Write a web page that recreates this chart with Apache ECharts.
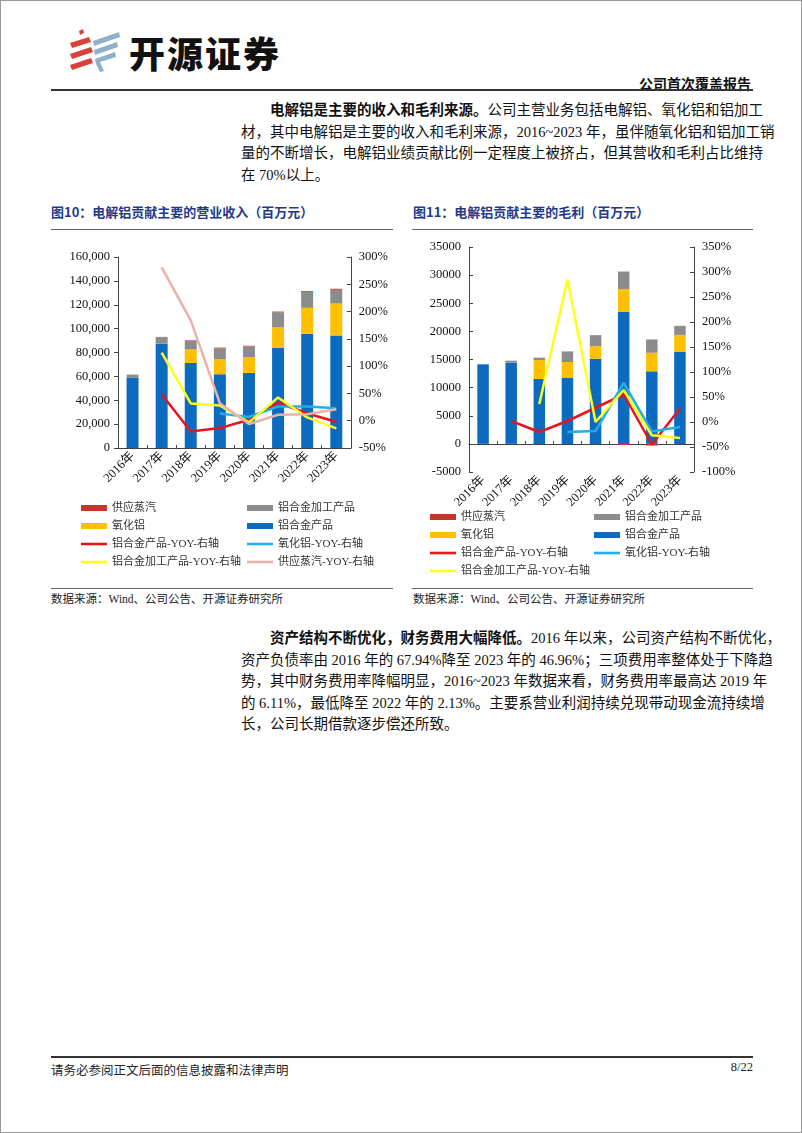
<!DOCTYPE html>
<html>
<head>
<meta charset="utf-8">
<script src="https://cdn.jsdelivr.net/npm/echarts@6/dist/echarts.min.js"></script>
<style>
  html, body { margin: 0; padding: 0; background: #fff; }
  #page { position: relative; width: 800px; height: 1131px; border: 1px solid #999; overflow: hidden;
    font-family: "Liberation Serif", "Noto Sans CJK SC", serif; color: #111; }
  .abs { position: absolute; }
  .brand { left: 128px; top: 28px; font-family: "Noto Sans CJK SC", sans-serif; font-weight: 900; font-size: 36px; letter-spacing: 2px; color: #111; line-height: 46px; }
  .rtype { right: 50px; top: 72px; font-family: "Noto Sans CJK SC", sans-serif; font-weight: bold; font-size: 14px; line-height: 20px; }
  .hline { left: 50px; width: 702px; height: 2px; background: #333; }
  .para { left: 240px; width: 512px; font-size: 14.5px; line-height: 21.5px; }
  .para div { text-align: justify; text-align-last: justify; white-space: nowrap; }
  .para div.last { text-align-last: left; }
  .para b { font-family: "Noto Sans CJK SC", sans-serif; font-weight: bold; }
  .ftitle { font-family: "Noto Sans CJK SC", sans-serif; font-weight: bold; font-size: 13px; color: #1f3a8a; line-height: 20px; }
  .rule { height: 1px; background: #666; }
  .src { font-size: 11.5px; line-height: 16px; color: #222; }
  .foot { font-size: 12.5px; color: #222; }
</style>
</head>
<body>
<div id="page">
  <svg class="abs" style="left:66px;top:28px" width="56" height="46" viewBox="0 0 56 46">
    <polygon points="12,2 16,0 17,4 13,6" fill="#d9413a"/>
    <polygon points="3,14 22,8 24,13 5,19" fill="#d9413a"/>
    <polygon points="3,25 24,18 26,23 5,30" fill="#d9413a"/>
    <polygon points="3,36 24,29 26,34 5,41" fill="#d9413a"/>
    <polygon points="26,12 52,3 53,8 27,17" fill="#8fb0c9"/>
    <polygon points="27,21 50,13 51,18 28,26" fill="#8fb0c9"/>
    <polygon points="28,30 48,23 49,28 33,33 37,42 33,43 29,35" fill="#8fb0c9"/>
  </svg>
  <div class="abs brand">开源证券</div>
  <div class="abs rtype">公司首次覆盖报告</div>
  <div class="abs hline" style="top:88px"></div>

  <div class="abs para" style="top:97px">
    <div style="padding-left:29px"><b>电解铝是主要的收入和毛利来源。</b>公司主营业务包括电解铝、氧化铝和铝加工</div>
    <div>材，其中电解铝是主要的收入和毛利来源，2016~2023 年，虽伴随氧化铝和铝加工销</div>
    <div>量的不断增长，电解铝业绩贡献比例一定程度上被挤占，但其营收和毛利占比维持</div>
    <div class="last">在 70%以上。</div>
  </div>

  <div class="abs ftitle" style="left:50px;top:201px">图10：电解铝贡献主要的营业收入（百万元）</div>
  <div class="abs ftitle" style="left:412px;top:201px">图11：电解铝贡献主要的毛利（百万元）</div>
  <div class="abs rule" style="left:50px;top:228px;width:342px"></div>
  <div class="abs rule" style="left:411px;top:228px;width:341px"></div>

  <div id="c1" class="abs" style="left:40px;top:240px;width:350px;height:345px"></div>
  <div id="c2" class="abs" style="left:400px;top:230px;width:360px;height:355px"></div>

  <div class="abs rule" style="left:50px;top:587px;width:342px"></div>
  <div class="abs rule" style="left:411px;top:587px;width:341px"></div>
  <div class="abs src" style="left:50px;top:590px">数据来源：Wind、公司公告、开源证券研究所</div>
  <div class="abs src" style="left:412px;top:590px">数据来源：Wind、公司公告、开源证券研究所</div>

  <div class="abs para" style="top:625px">
    <div style="padding-left:29px"><b>资产结构不断优化，财务费用大幅降低。</b>2016 年以来，公司资产结构不断优化，</div>
    <div>资产负债率由 2016 年的 67.94%降至 2023 年的 46.96%；三项费用率整体处于下降趋</div>
    <div>势，其中财务费用率降幅明显，2016~2023 年数据来看，财务费用率最高达 2019 年</div>
    <div>的 6.11%，最低降至 2022 年的 2.13%。主要系营业利润持续兑现带动现金流持续增</div>
    <div class="last">长，公司长期借款逐步偿还所致。</div>
  </div>

  <div class="abs hline" style="top:1055px"></div>
  <div class="abs foot" style="left:50px;top:1059px">请务必参阅正文后面的信息披露和法律声明</div>
  <div class="abs foot" style="right:48px;top:1059px">8/22</div>
</div>

<script>
// categories
const years = ['2016年', '2017年', '2018年', '2019年', '2020年', '2021年', '2022年', '2023年'];

// 图10 营业收入（百万元）
const revAlloy = [59000, 87400, 71200, 61800, 62900, 84000, 95700, 94300];
const revAlumina = [0, 0, 11400, 12500, 13300, 17000, 21700, 26700];
const revProcess = [2450, 5500, 7250, 9200, 8900, 12700, 13450, 11570];
const revSteam = [40, 150, 430, 570, 530, 590, 660, 800];
const revAlloyYoy = [null, 48.6, -19.6, -13.5, 1.7, 33.4, 13.3, -2];
const revAluminaYoy = [null, null, null, 13.3, 7, 26, 26, 23];
const revProcessYoy = [null, 124.7, 31.6, 28, -3, 42.5, 6, -14];
const revSteamYoy = [null, 281, 184, 32, -6, 11, 12, 21];

// 图11 毛利（百万元）
const gpAlloy = [14140, 14430, 11550, 11780, 15140, 23450, 12900, 16380];
const gpAlumina = [0, 0, 3350, 2770, 2240, 4060, 3300, 3000];
const gpProcess = [0, 360, 420, 1890, 1950, 3130, 2360, 1600];
const gpSteam = [0, 0, 0, 0, 0, -200, -300, 0];
const gpAlloyYoy = [null, 2, -20, 2, 28.5, 55, -45, 27];
const gpAluminaYoy = [null, null, null, -20, -18, 78, -19, -10];
const gpProcessYoy = [null, null, 36, 285, 0, 64, -26.5, -32];

const C = {
  alloy: '#0d6bbf', alumina: '#ffc000', process: '#8c8c8c', steam: '#c8352b',
  alloyYoy: '#e8141b', aluminaYoy: '#22aee8', processYoy: '#ffff1e', steamYoy: '#e8b2a8'
};
const FONT = '"Liberation Serif", "Noto Sans CJK SC", serif';
const LINE_ICON = 'path://M0,0H30V3H0Z';

function bar(name, data, color, w) {
  return { name: name, type: 'bar', stack: 'total', data: data, barWidth: w,
    itemStyle: { color: color }, color: color, yAxisIndex: 0, animation: false };
}
function line(name, data, color) {
  return { name: name, type: 'line', data: data, yAxisIndex: 1, symbol: 'none',
    color: color, lineStyle: { color: color, width: 2.5 }, animation: false };
}
function legend(left, top, items) {
  return {
    orient: 'vertical', left: left, top: top, itemWidth: 26, itemHeight: 6, itemGap: 6,
    symbolKeepAspect: true, selectedMode: false,
    textStyle: { fontSize: 11, fontFamily: FONT, color: '#333', lineHeight: 12 },
    data: items.map(function (it) { return { name: it[0], icon: it[1] ? LINE_ICON : 'rect' }; })
  };
}
function valueAxis(min, max, interval, fmt, pos, tickInside) {
  return {
    type: 'value', min: min, max: max, interval: interval, position: pos,
    splitLine: { show: false },
    axisLine: { show: true, lineStyle: { color: '#444', width: 1 } },
    axisTick: { show: true, inside: tickInside, length: 4, lineStyle: { color: '#444' } },
    axisLabel: { formatter: fmt, fontFamily: FONT, fontSize: 12.5, color: '#111', margin: 8 }
  };
}
function catAxis() {
  return {
    type: 'category', data: years,
    axisLine: { onZero: true, onZeroAxisIndex: 0, lineStyle: { color: '#444' } },
    axisTick: { show: true, inside: true, length: 3, lineStyle: { color: '#444' } },
    axisLabel: { rotate: 45, interval: 0, fontFamily: FONT, fontSize: 12.5, color: '#111', margin: 6 }
  };
}

const chart1 = echarts.init(document.getElementById('c1'));
chart1.setOption({
  grid: { left: 77, right: 37, top: 16, bottom: 138 },
  xAxis: catAxis(),
  yAxis: [
    valueAxis(0, 160000, 20000, function (v) { return v.toLocaleString('en-US'); }, 'left', false),
    valueAxis(-50, 300, 50, function (v) { return v + '%'; }, 'right', true)
  ],
  legend: [
    legend(35, 256, [['供应蒸汽', 0], ['氧化铝', 0], ['铝合金产品-YOY-右轴', 1], ['铝合金加工产品-YOY-右轴', 1]]),
    legend(201, 256, [['铝合金加工产品', 0], ['铝合金产品', 0], ['氧化铝-YOY-右轴', 1], ['供应蒸汽-YOY-右轴', 1]])
  ],
  series: [
    bar('铝合金产品', revAlloy, C.alloy, 12),
    bar('氧化铝', revAlumina, C.alumina, 12),
    bar('铝合金加工产品', revProcess, C.process, 12),
    bar('供应蒸汽', revSteam, C.steam, 12),
    line('铝合金产品-YOY-右轴', revAlloyYoy, C.alloyYoy),
    line('氧化铝-YOY-右轴', revAluminaYoy, C.aluminaYoy),
    line('铝合金加工产品-YOY-右轴', revProcessYoy, C.processYoy),
    line('供应蒸汽-YOY-右轴', revSteamYoy, C.steamYoy)
  ]
});

const chart2 = echarts.init(document.getElementById('c2'));
chart2.setOption({
  grid: { left: 68, right: 67, top: 16, bottom: 114 },
  xAxis: catAxis(),
  yAxis: [
    valueAxis(-5000, 35000, 5000, function (v) { return String(v); }, 'left', true),
    valueAxis(-100, 350, 50, function (v) { return v + '%'; }, 'right', true)
  ],
  legend: [
    legend(24, 275, [['供应蒸汽', 0], ['氧化铝', 0], ['铝合金产品-YOY-右轴', 1], ['铝合金加工产品-YOY-右轴', 1]]),
    legend(188, 275, [['铝合金加工产品', 0], ['铝合金产品', 0], ['氧化铝-YOY-右轴', 1]])
  ],
  series: [
    bar('铝合金产品', gpAlloy, C.alloy, 11.5),
    bar('氧化铝', gpAlumina, C.alumina, 11.5),
    bar('铝合金加工产品', gpProcess, C.process, 11.5),
    bar('供应蒸汽', gpSteam, C.steam, 11.5),
    line('铝合金产品-YOY-右轴', gpAlloyYoy, C.alloyYoy),
    line('氧化铝-YOY-右轴', gpAluminaYoy, C.aluminaYoy),
    line('铝合金加工产品-YOY-右轴', gpProcessYoy, C.processYoy)
  ]
});
</script>
</body>
</html>
